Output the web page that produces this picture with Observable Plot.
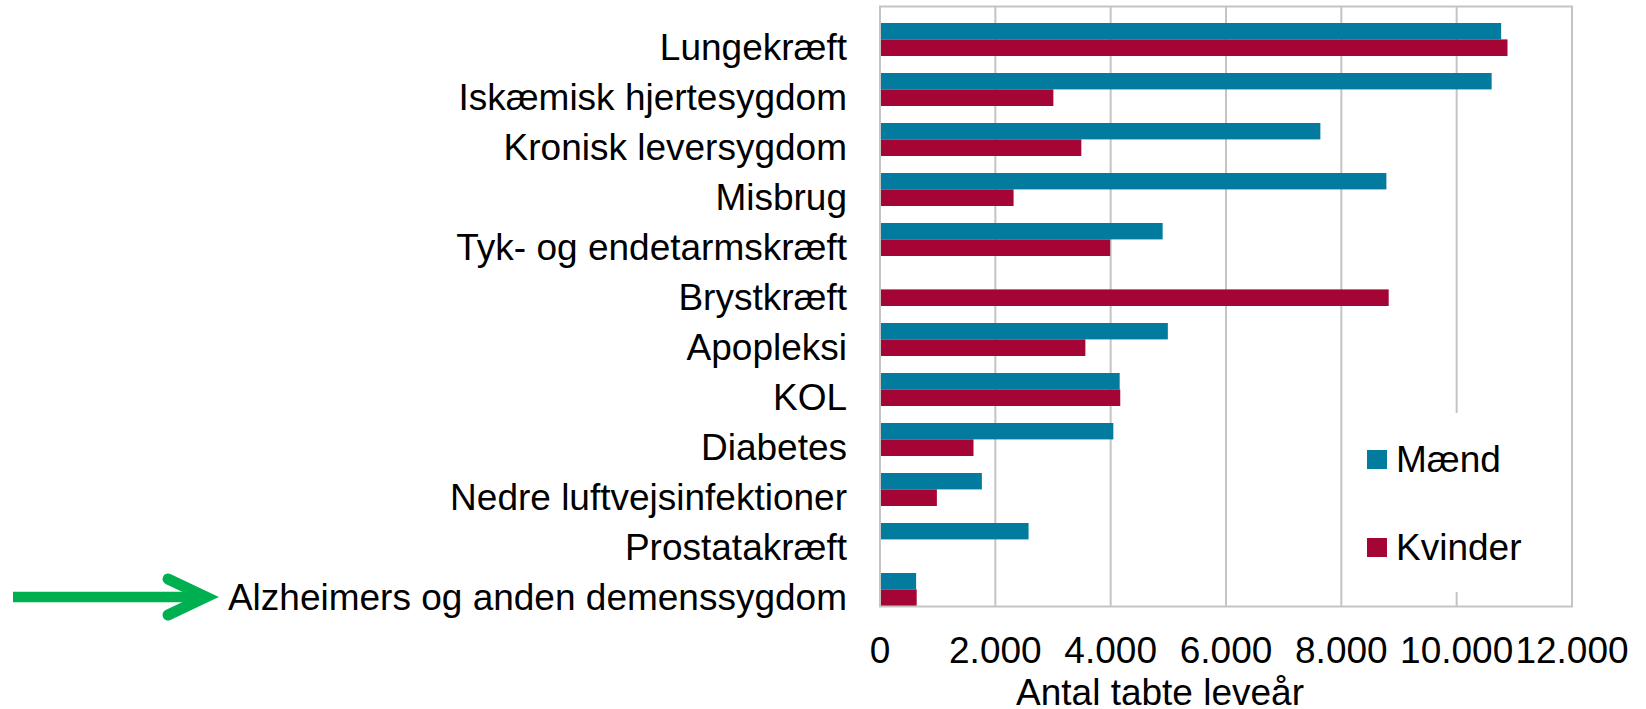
<!DOCTYPE html>
<html>
<head>
<meta charset="utf-8">
<script src="https://cdn.jsdelivr.net/npm/d3@7"></script>
<script src="https://cdn.jsdelivr.net/npm/@observablehq/plot@0.6"></script>
<style>
  html, body { margin: 0; padding: 0; background: #fff; }
  #wrap { position: relative; width: 1646px; height: 709px; font-family: "Liberation Sans", Arial, sans-serif; }
  #legend { position: absolute; left: 1355px; top: 413px; width: 213px; height: 179px; background: #fff; }
  .lg-item { position: absolute; left: 12px; font-size: 37px; line-height: 37px; color: #000; white-space: nowrap; }
  .lg-sw { display: inline-block; width: 20px; height: 19px; vertical-align: middle; margin-right: 9px; position: relative; top: -3px; }
  #arrow { position: absolute; left: 0; top: 0; pointer-events: none; }
</style>
</head>
<body>
<div id="wrap"></div>
<script>
const categories = [
  "Lungekræft",
  "Iskæmisk hjertesygdom",
  "Kronisk leversygdom",
  "Misbrug",
  "Tyk- og endetarmskræft",
  "Brystkræft",
  "Apopleksi",
  "KOL",
  "Diabetes",
  "Nedre luftvejsinfektioner",
  "Prostatakræft",
  "Alzheimers og anden demenssygdom"
];
const maend   = [10780, 10615, 7645, 8790, 4910, 0, 5000, 4165, 4055, 1775, 2585, 635];
const kvinder = [10890, 3015, 3500, 2325, 4000, 8830, 3570, 4175, 1630, 995, 0, 645];
const seriesNames = ["Mænd", "Kvinder"];
const seriesColors = ["#027b9e", "#a50534"];
const xTicks = [0, 2000, 4000, 6000, 8000, 10000, 12000];
const xTickLabels = ["0", "2.000", "4.000", "6.000", "8.000", "10.000", "12.000"];
const xLabel = "Antal tabte leveår";

const rowsM = categories.map((c, i) => ({cat: c, value: maend[i]}));
const rowsK = categories.map((c, i) => ({cat: c, value: kvinder[i]}));

const font = "'Liberation Sans', Arial, sans-serif";

const chart = Plot.plot({
  width: 1646,
  height: 709,
  marginLeft: 879.5,
  marginRight: 74.5,
  marginTop: 6,
  marginBottom: 103,
  style: {fontFamily: font, fontSize: "37px", color: "#000", background: "#fff", overflow: "visible"},
  x: {domain: [0, 12000], ticks: xTicks},
  y: {domain: categories, padding: 0, round: false},
  marks: [
    Plot.gridX(xTicks, {stroke: "#c4c4c4", strokeOpacity: 1, strokeWidth: 2}),
    Plot.barX(rowsM, {x: "value", y: "cat", fill: seriesColors[0], insetTop: 17, insetBottom: 16.6}),
    Plot.barX(rowsK, {x: "value", y: "cat", fill: seriesColors[1], insetTop: 33.4, insetBottom: 0}),
    Plot.frame({stroke: "#c4c4c4", strokeWidth: 2}),
    Plot.axisY({tickSize: 0, tickPadding: 33, dy: 16.5, fontSize: 37, fill: "#000", label: null}),
    Plot.axisX(xTicks, {tickSize: 0, tickPadding: 30.5, fontSize: 37, fill: "#000", label: null,
      tickFormat: d => xTickLabels[xTicks.indexOf(d)]}),
    Plot.text([xLabel], {frameAnchor: "bottom", dx: -66, dy: 98, fontSize: 37, fill: "#000", lineAnchor: "bottom", text: d => d})
  ]
});

const wrap = document.getElementById("wrap");
wrap.appendChild(chart);

// Legend (inside plot area, white background)
const legend = document.createElement("div");
legend.id = "legend";
seriesNames.forEach((name, i) => {
  const item = document.createElement("div");
  item.className = "lg-item";
  item.style.top = (i === 0 ? 28 : 116) + "px";
  const sw = document.createElement("span");
  sw.className = "lg-sw";
  sw.style.background = seriesColors[i];
  item.appendChild(sw);
  item.appendChild(document.createTextNode(name));
  legend.appendChild(item);
});
wrap.appendChild(legend);

// Green annotation arrow pointing at the last category
const ns = "http://www.w3.org/2000/svg";
const arrow = document.createElementNS(ns, "svg");
arrow.setAttribute("id", "arrow");
arrow.setAttribute("width", "230");
arrow.setAttribute("height", "709");
const line = document.createElementNS(ns, "path");
line.setAttribute("d", "M13,597 H203");
line.setAttribute("stroke", "#00b050");
line.setAttribute("stroke-width", "10.5");
line.setAttribute("fill", "none");
arrow.appendChild(line);
const head = document.createElementNS(ns, "path");
head.setAttribute("d", "M168,579 L206,597 L168,615");
head.setAttribute("stroke", "#00b050");
head.setAttribute("stroke-width", "11");
head.setAttribute("stroke-linecap", "round");
head.setAttribute("stroke-linejoin", "miter");
head.setAttribute("fill", "none");
arrow.appendChild(head);
wrap.appendChild(arrow);
</script>
</body>
</html>
